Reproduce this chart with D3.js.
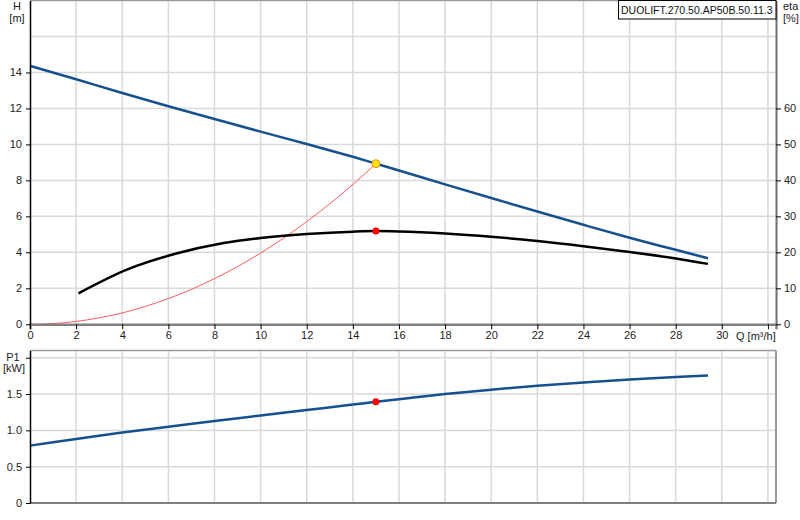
<!DOCTYPE html>
<html>
<head>
<meta charset="utf-8">
<script src="https://cdn.jsdelivr.net/npm/d3@7"></script>
<style>
  body { margin: 0; background: #fff; }
  svg { display: block; font-family: "Liberation Sans", Arial, sans-serif; font-size: 11px; }
  .grid line { stroke: #d9d9d9; stroke-width: 1.5; }
  .axis text { fill: #222; font-size: 11px; }
</style>
</head>
<body>
<div id="chart"></div>
<script>
// pump curve data
const qHead = [0, 2, 4, 6, 8, 10, 12, 14, 15, 16, 18, 20, 22, 24, 26, 28, 29.4];
const head = [14.37, 13.62, 12.86, 12.12, 11.41, 10.71, 10.02, 9.31, 8.93, 8.55, 7.78, 7.02, 6.27, 5.53, 4.81, 4.14, 3.67];

const qEta = [2.1, 4.2, 6.3, 8.4, 10, 12, 14, 15, 16, 18, 20, 22, 24, 26, 28, 29.4];
const eta = [8.6, 15.2, 19.6, 22.6, 24.0, 25.1, 25.75, 25.9, 25.8, 25.25, 24.35, 23.15, 21.7, 20.1, 18.3, 16.8];

const qSystem = [0, 1, 2, 3, 4, 5, 6, 7, 8, 9, 10, 11, 12, 13, 14, 15];
const hSystem = [0, 0.04, 0.16, 0.36, 0.63, 0.99, 1.43, 1.94, 2.54, 3.21, 3.96, 4.79, 5.71, 6.7, 7.77, 8.93];

const qPower = [0, 2, 4, 6, 8, 10, 12, 14, 15, 16, 18, 20, 22, 24, 26, 28, 29.4];
const power = [0.79, 0.88, 0.97, 1.05, 1.13, 1.205, 1.28, 1.355, 1.395, 1.43, 1.50, 1.56, 1.615, 1.66, 1.70, 1.735, 1.755];

const dutyPoint = { q: 15, h: 8.93, eta: 25.9, p1: 1.395 };

const qTicks = d3.range(0, 33, 2);
const qLabels = d3.range(0, 31, 2);
const hTicks = [0, 2, 4, 6, 8, 10, 12, 14];
const hGrid = [0, 2, 4, 6, 8, 10, 12, 14, 16];
const etaTicks = [0, 10, 20, 30, 40, 50, 60];
const pTicks = [0, 0.5, 1.0, 1.5, 2.0];
const pLabels = ['0', '0.5', '1.0', '1.5'];
const title = 'DUOLIFT.270.50.AP50B.50.11.3';

const width = 800;
const height = 520;
const left = 30, right = 776;
const top1 = 0.5, bottom1 = 324.3;
const top2 = 350.5, bottom2 = 503;

const svg = d3.select('#chart').append('svg')
    .attr('width', width)
    .attr('height', height);

const x = d3.scaleLinear().domain([0, 32.35]).range([left, right]);
const yH = d3.scaleLinear().domain([0, 18]).range([bottom1, top1]);
const yEta = d3.scaleLinear().domain([0, 90]).range([bottom1, top1]);
const yP = d3.scaleLinear().domain([0, 2.1]).range([bottom2, top2]);

function drawGrid(yScale, yValues, y0, y1) {
    const g = svg.append('g').attr('class', 'grid');
    g.selectAll('line.v')
        .data(qTicks.filter(d => d > 0))
        .join('line')
        .attr('class', 'v')
        .attr('x1', d => x(d)).attr('x2', d => x(d))
        .attr('y1', y0).attr('y2', y1);
    g.selectAll('line.h')
        .data(yValues.filter(d => d > 0))
        .join('line')
        .attr('class', 'h')
        .attr('x1', left).attr('x2', right)
        .attr('y1', d => yScale(d)).attr('y2', d => yScale(d));
}

// ---- top chart ----
drawGrid(yH, hGrid, top1, bottom1);

svg.append('line').attr('x1', left).attr('x2', right).attr('y1', top1).attr('y2', top1)
    .attr('stroke', '#9a9a9a').attr('stroke-width', 1.5);

const system = d3.line().x((d, i) => x(qSystem[i])).y(d => yH(d)).curve(d3.curveMonotoneX);
svg.append('path')
    .attr('d', system(hSystem))
    .attr('fill', 'none')
    .attr('stroke', '#ff5a5a')
    .attr('stroke-width', 1);

const etaLine = d3.line().x((d, i) => x(qEta[i])).y(d => yEta(d)).curve(d3.curveMonotoneX);
svg.append('path')
    .attr('d', etaLine(eta))
    .attr('fill', 'none')
    .attr('stroke', '#000')
    .attr('stroke-width', 2.5);

const headLine = d3.line().x((d, i) => x(qHead[i])).y(d => yH(d)).curve(d3.curveMonotoneX);
svg.append('path')
    .attr('d', headLine(head))
    .attr('fill', 'none')
    .attr('stroke', '#16508f')
    .attr('stroke-width', 2.5);

// axes
const xAxis = svg.append('g')
    .attr('class', 'axis')
    .attr('transform', `translate(0,${bottom1})`)
    .call(d3.axisBottom(x).tickValues(qTicks).tickSize(5).tickPadding(2)
        .tickFormat(d => qLabels.includes(d) ? d : ''));
xAxis.select('.domain').attr('stroke', '#808080').attr('stroke-width', 2.5);
xAxis.selectAll('.tick line').attr('stroke', '#000');

const hAxis = svg.append('g')
    .attr('class', 'axis')
    .attr('transform', `translate(${left},0)`)
    .call(d3.axisLeft(yH).tickValues(hTicks).tickSize(4).tickSizeOuter(0).tickPadding(4));
hAxis.select('.domain').attr('stroke', '#000').attr('stroke-width', 1.5);

const etaAxis = svg.append('g')
    .attr('class', 'axis')
    .attr('transform', `translate(${right},0)`)
    .call(d3.axisRight(yEta).tickValues(etaTicks).tickSize(5).tickSizeOuter(0).tickPadding(3));
etaAxis.select('.domain').attr('stroke', '#707070').attr('stroke-width', 2);

// duty point markers
svg.append('circle')
    .attr('cx', x(dutyPoint.q)).attr('cy', yEta(dutyPoint.eta)).attr('r', 3.5)
    .attr('fill', '#ff0000');
svg.append('circle')
    .attr('cx', x(dutyPoint.q)).attr('cy', yH(dutyPoint.h)).attr('r', 4)
    .attr('fill', '#ffe600').attr('stroke', '#f08a30').attr('stroke-width', 1);

// axis titles
svg.append('text').attr('x', 17).attr('y', 10).attr('text-anchor', 'middle').attr('fill', '#222').text('H');
svg.append('text').attr('x', 17).attr('y', 22).attr('text-anchor', 'middle').attr('fill', '#222').text('[m]');
svg.append('text').attr('x', 783).attr('y', 10).attr('fill', '#222').text('eta');
svg.append('text').attr('x', 783).attr('y', 22).attr('fill', '#222').text('[%]');
svg.append('text').attr('x', 736).attr('y', 340).attr('fill', '#222').text('Q [m³/h]');

// model label box
const box = svg.append('g');
box.append('rect')
    .attr('x', 618.5).attr('y', 0.5).attr('width', right - 618.5).attr('height', 18.5)
    .attr('fill', '#fff').attr('stroke', '#000').attr('stroke-width', 1);
box.append('text').attr('x', 621).attr('y', 13.5).attr('fill', '#111')
    .style('font-size', '10.5px').text(title);

// ---- bottom chart ----
drawGrid(yP, pTicks, top2, bottom2);

svg.append('line').attr('x1', left).attr('x2', right).attr('y1', top2).attr('y2', top2)
    .attr('stroke', '#9a9a9a').attr('stroke-width', 1.5);
svg.append('line').attr('x1', right).attr('x2', right).attr('y1', top2).attr('y2', bottom2)
    .attr('stroke', '#9a9a9a').attr('stroke-width', 2);
svg.append('line').attr('x1', left).attr('x2', right).attr('y1', bottom2).attr('y2', bottom2)
    .attr('stroke', '#808080').attr('stroke-width', 2);

const powerLine = d3.line().x((d, i) => x(qPower[i])).y(d => yP(d)).curve(d3.curveMonotoneX);
svg.append('path')
    .attr('d', powerLine(power))
    .attr('fill', 'none')
    .attr('stroke', '#16508f')
    .attr('stroke-width', 2.5);

const pAxis = svg.append('g')
    .attr('class', 'axis')
    .attr('transform', `translate(${left},0)`)
    .call(d3.axisLeft(yP).tickValues(pTicks).tickSize(4).tickSizeOuter(0).tickPadding(4)
        .tickFormat((d, i) => pLabels[i] || ''));
pAxis.select('.domain').attr('stroke', '#000').attr('stroke-width', 1.5);

svg.append('circle')
    .attr('cx', x(dutyPoint.q)).attr('cy', yP(dutyPoint.p1)).attr('r', 3.5)
    .attr('fill', '#ff0000');

svg.append('text').attr('x', 13).attr('y', 361).attr('text-anchor', 'middle').attr('fill', '#222').text('P1');
svg.append('text').attr('x', 14).attr('y', 372).attr('text-anchor', 'middle').attr('fill', '#222').text('[kW]');
</script>
</body>
</html>
